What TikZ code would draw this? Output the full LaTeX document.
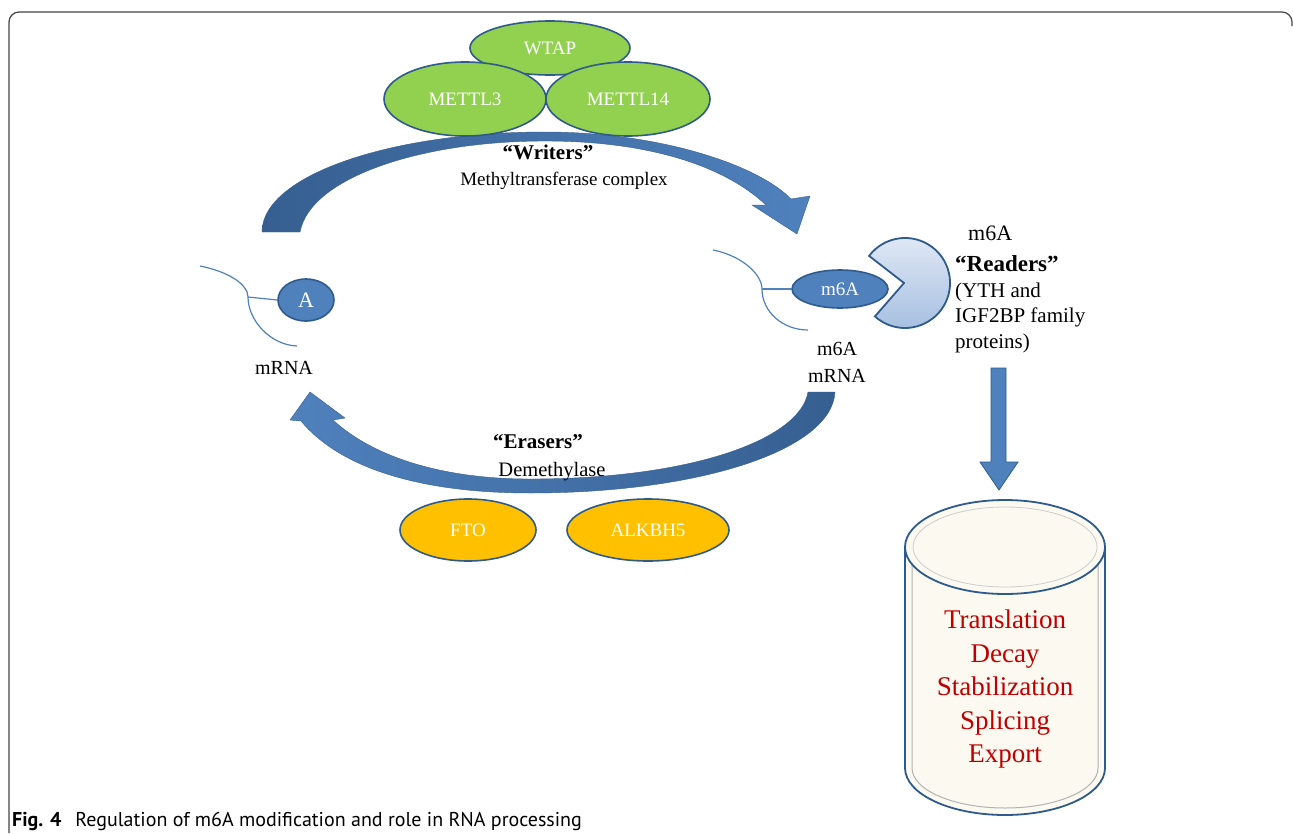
\documentclass[tikz,border=0pt]{standalone}
\usepackage{fontspec}
\setmainfont{Liberation Serif}
\newfontfamily\capfont{PT Sans}
\usetikzlibrary{shapes.geometric}
\definecolor{rnablue}{HTML}{4F81BD}
\definecolor{darkblue}{HTML}{365F91}
\definecolor{edgeblue}{HTML}{2F5A8C}
\definecolor{grn}{HTML}{92D050}
\definecolor{org}{HTML}{FFC000}
\definecolor{redtxt}{HTML}{C00000}
\definecolor{cream}{HTML}{FBF9F0}
\definecolor{pacA}{HTML}{E2EAF6}
\definecolor{pacB}{HTML}{A7BFE1}
\definecolor{framegray}{HTML}{444444}
\tikzset{
  prot/.style={ellipse, draw=edgeblue, line width=1.6pt, text=white, inner sep=0pt, font=\fontsize{19}{22}\selectfont},
  rna/.style={draw=rnablue, line width=1.2pt},
  lab/.style={font=\fontsize{19}{23}\selectfont, inner sep=0pt},
  rlab/.style={font=\fontsize{21}{25}\selectfont, inner sep=0pt, anchor=west},
  blab/.style={font=\bfseries\fontsize{21}{24}\selectfont, inner sep=0pt},
  bigarrow/.style={draw=darkblue, line width=0.4pt},
}
\begin{document}
\begin{tikzpicture}[x=1pt,y=-1pt]
\useasboundingbox (0,0) rectangle (1293,833);
\fill[white] (0,0) rectangle (1293,833);
% frame
\draw[framegray, line width=1.2pt, rounded corners=10pt] (9,833) -- (9,12) -- (1292,12) -- (1292,26);

% writers arrow
\path[bigarrow, left color=darkblue, right color=rnablue]
  (262,232) .. controls (262,176) and (389,132) .. (545,132)
  .. controls (660,132) and (758,165) .. (791,199)
  -- (810,196) -- (797,234) -- (752,205) -- (766,205)
  .. controls (720,162) and (640,141) .. (545,141)
  .. controls (420,141) and (310,178) .. (300,232) -- cycle;
% erasers arrow
\path[bigarrow, left color=rnablue, right color=darkblue]
  (808,392) -- (835,392) .. controls (832,450) and (700,493) .. (530,493)
  .. controls (420,493) and (340,468) .. (301,421)
  -- (290,420) -- (310,392) -- (345,418) -- (333,420)
  .. controls (372,456) and (440,479) .. (530,479)
  .. controls (690,479) and (800,440) .. (808,392) -- cycle;

% writers complex
\node[prot, fill=grn, minimum width=160pt, minimum height=54pt] (wtap) at (550,48) {WTAP};
\node[prot, fill=grn, minimum width=162pt, minimum height=74pt] (mettl3) at (465,99) {METTL3};
\node[prot, fill=grn, minimum width=164pt, minimum height=74pt] (mettl14) at (628,99) {METTL14};
\node[blab] (wlab) at (548,152) {“Writers”};
\node[lab] (wsub) at (564,181) {Methyltransferase complex};

% erasers
\node[blab] (elab) at (538,442) {“Erasers”};
\node[lab, font=\fontsize{20.5}{24}\selectfont] (esub) at (552,472) {Demethylase};
\node[prot, fill=org, minimum width=136pt, minimum height=62pt] (fto) at (468,530) {FTO};
\node[prot, fill=org, minimum width=162pt, minimum height=62pt] (alkbh5) at (648,530) {ALKBH5};

% left mRNA
\coordinate (l1) at (200,266);
\coordinate (l2) at (248,297);
\coordinate (l3) at (297,346);
\draw[rna] (l1) .. controls (230,272) and (248,285) .. (l2) .. controls (248,320) and (270,345) .. (l3);
\node[prot, fill=rnablue, minimum width=56pt, minimum height=42pt, font=\fontsize{22}{24}\selectfont] (A) at (306,300) {A};
\draw[rna] (l2) -- (A.west);
\node[lab, font=\fontsize{20}{24}\selectfont] (mrnaL) at (284,368) {mRNA};

% right mRNA
\coordinate (r1) at (713,250);
\coordinate (r2) at (762,289);
\coordinate (r3) at (808,330);
\draw[rna] (r1) .. controls (743,256) and (762,275) .. (r2) .. controls (762,312) and (783,330) .. (r3);
\node[prot, fill=rnablue, minimum width=96pt, minimum height=38pt] (m6A) at (840,289) {m6A};
\draw[rna] (r2) -- (m6A.west);
\node[lab, font=\fontsize{20}{27}\selectfont, align=center] (mrnaR) at (837,362) {m6A\\mRNA};

% reader (pac-man)
\filldraw[draw=edgeblue, line width=1.8pt, top color=pacA, bottom color=pacB]
  (904,283) -- (869.1,255.9) arc[start angle=217, end angle=492, radius=45] -- cycle;
\node[rlab, font=\fontsize{22}{25}\selectfont] (rm6a) at (968,233) {m6A};
\node[blab, anchor=west, font=\bfseries\fontsize{23}{26}\selectfont] (readers) at (955,264) {“Readers”};
\node[rlab] (ryth) at (955,292) {(YTH and};
\node[rlab] (rigf) at (955,317) {IGF2BP family};
\node[rlab] (rprot) at (955,343) {proteins)};

% down arrow
\filldraw[draw=edgeblue, line width=0.8pt, fill=rnablue]
  (991,368) -- (1006,368) -- (1006,462) -- (1018,462) -- (999,490) -- (980,462) -- (991,462) -- cycle;

% cylinder
\filldraw[draw=edgeblue, line width=1.8pt, fill=cream]
  (905,547) -- (905,768) arc[start angle=180, end angle=0, x radius=100, y radius=47] -- (1105,547);
\draw[gray!60, line width=1pt] (912,560) -- (912,768) arc[start angle=180, end angle=0, x radius=93, y radius=40] -- (1098,560);
\filldraw[draw=edgeblue, line width=1.8pt, fill=cream] (1005,547) ellipse[x radius=100, y radius=47];
\draw[gray!40, line width=0.8pt] (1005,547) ellipse[x radius=92, y radius=40];
\node[font=\fontsize{27}{33.5}\selectfont, text=redtxt, align=center, inner sep=0pt] (proc) at (1005,689) {Translation\\Decay\\Stabilization\\Splicing\\Export};

% caption
\node[anchor=base west, inner sep=0pt, font=\capfont\fontsize{20}{22}\selectfont] (cap) at (12,826) {\textbf{Fig. 4}\hspace{14pt}Regulation of m6A modification and role in RNA processing};
\end{tikzpicture}
\end{document}
